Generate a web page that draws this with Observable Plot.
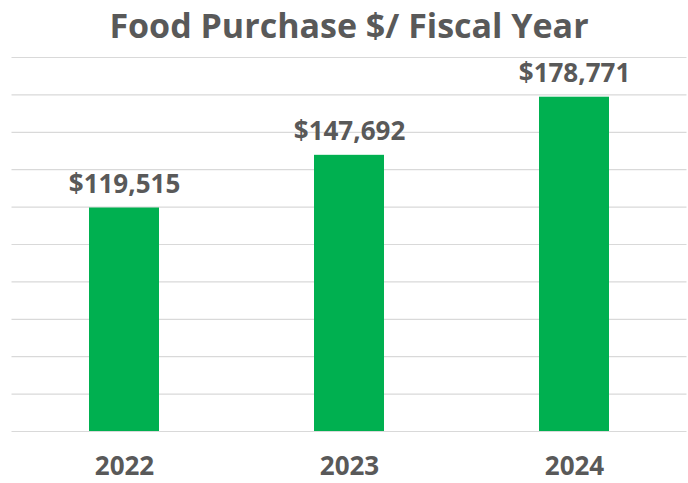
<!DOCTYPE html>
<html>
<head>
<meta charset="utf-8">
<script src="https://cdn.jsdelivr.net/npm/d3@7"></script>
<script src="https://cdn.jsdelivr.net/npm/@observablehq/plot@0.6"></script>
<style>
  html, body { margin: 0; padding: 0; background: #fff; }
  #title {
    height: 48px; line-height: 50px; margin: 0;
    font-family: "Open Sans", sans-serif; font-weight: 700; font-size: 34px;
    color: #595959; text-align: center; padding-left: 10px;
  }
  #chart svg { display: block; }
</style>
</head>
<body>
<div id="title">Food Purchase $/ Fiscal Year</div>
<div id="chart"></div>
<script>
const years = ["2022", "2023", "2024"];
const purchases = [119515, 147692, 178771];
const yTicks = [0, 20000, 40000, 60000, 80000, 100000, 120000, 140000, 160000, 180000, 200000];

const data = years.map((y, i) => ({year: y, value: purchases[i]}));
const fmt = v => "$" + d3.format(",")(v);

const plot = Plot.plot({
  width: 688,
  height: 435,
  marginTop: 9,
  marginBottom: 52,
  marginLeft: 11.5,
  marginRight: 1.5,
  style: {fontFamily: "'Open Sans', sans-serif", background: "#fff"},
  x: {domain: years, paddingInner: 0.689, paddingOuter: 0.3445, label: null},
  y: {domain: [0, 200000], label: null},
  marks: [
    Plot.ruleY(yTicks, {stroke: "#d9d9d9", strokeWidth: 1.2, strokeOpacity: 1}),
    Plot.barY(data, {x: "year", y: "value", fill: "#00b050"}),
    Plot.text(data, {x: "year", y: "value", text: d => fmt(d.value), lineAnchor: "bottom", dy: -15,
      fontSize: 26, fontWeight: 700, fill: "#595959"}),
    Plot.axisX({tickSize: 0, tickPadding: 25, fontSize: 26, fontWeight: 700, color: "#595959", label: null}),
    Plot.axisY({ticks: [], label: null})
  ]
});
document.getElementById("chart").appendChild(plot);
</script>
</body>
</html>
